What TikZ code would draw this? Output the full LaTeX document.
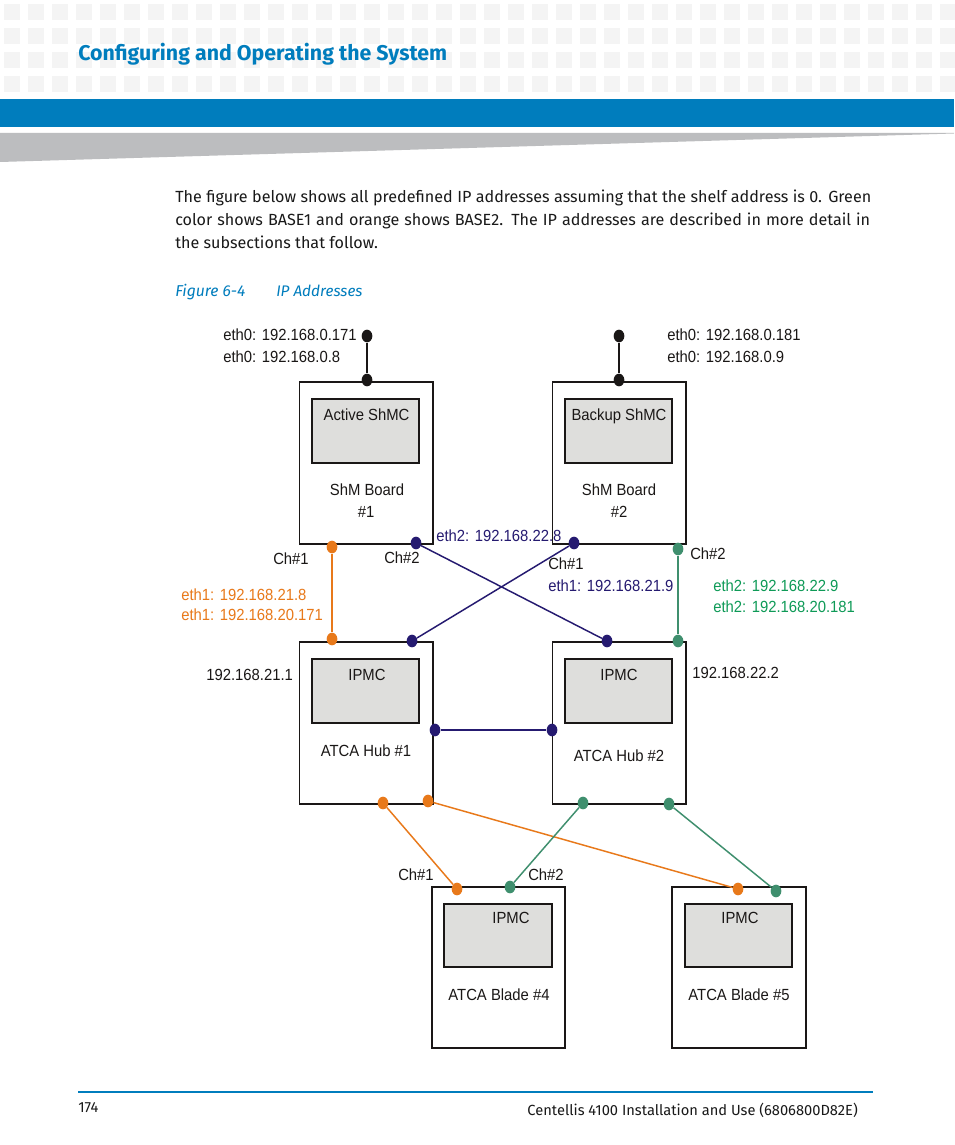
\documentclass[tikz,border=0pt]{standalone}
\usepackage{fontspec}
\setmainfont{Fira Sans}
\newfontfamily\diag[FakeStretch=0.92]{Liberation Sans}
\usetikzlibrary{shapes.geometric}
\definecolor{hblue}{HTML}{007DBD}
\definecolor{hgray}{HTML}{BCBDBF}
\definecolor{hsq}{HTML}{F4F4F4}
\definecolor{inner}{HTML}{DEDEDC}
\definecolor{oline}{HTML}{E8791A}
\definecolor{navy}{HTML}{251A70}
\definecolor{gline}{HTML}{3F8F6E}
\definecolor{gtext}{HTML}{0E9A57}
\definecolor{blk}{HTML}{1A1716}
\tikzset{
 x=0.75pt,y=-0.75pt,
 pagetext/.style={anchor=base west,inner sep=0,font=\fontsize{12.1pt}{14pt}\selectfont,text=black!90},
 lab/.style={anchor=base west,inner sep=0,font=\diag\fontsize{12.1pt}{14pt}\selectfont,text=blk},
 nm/.style={anchor=base,inner sep=0,yshift=0.6pt,font=\diag\fontsize{12.1pt}{14pt}\selectfont,text=blk},
 board/.style={draw=blk,line width=1.1pt,fill=white},
 chip/.style={draw=blk,line width=1.5pt,fill=inner},
 dot/.style={ellipse,inner sep=0,minimum width=8pt,minimum height=9.5pt,fill=#1,draw=none},
 wire/.style={draw=#1,line width=1.1pt},
}
\begin{document}
\begin{tikzpicture}
\useasboundingbox (0,0) rectangle (954,1145);
\fill[white] (0,0) rectangle (954,1145);
% header pattern
\foreach \i in {0,...,39}\foreach \j in {0,...,3}
  \fill[hsq] ({4+24*\i},{4+24*\j}) rectangle ++(16,16);
\fill[hblue] (0,99) rectangle (954,127);
\fill[hgray] (0,133) -- (954,133) -- (954,133.5) -- (0,162) -- cycle;
\node[anchor=base west,inner sep=0,font=\fontsize{16pt}{18pt}\selectfont\bfseries,text=hblue] (title) at (78,61) {Configuring and Operating the System};
% paragraph
\node[pagetext] (p1) at (175,202) {\makebox[522pt][s]{The figure below shows all predefined IP addresses assuming that the shelf address is 0. Green}};
\node[pagetext] (p2) at (175,225) {\makebox[521.2pt][s]{color shows BASE1 and orange shows BASE2. The IP addresses are described in more detail in}};
\node[pagetext] (p3) at (175,248) {the subsections that follow.};
\node[pagetext,text=hblue,font=\fontsize{11.8pt}{14pt}\selectfont\itshape] (figno) at (175,296) {Figure 6-4};
\node[pagetext,text=hblue,font=\fontsize{11.5pt}{14pt}\selectfont\itshape] (figt) at (276,296) {IP Addresses};
% boards
\foreach \n/\xa/\ya/\xb/\yb/\xc/\yc/\xd/\yd/\w in {
 b1/299.5/382/433/544/312/399/419/463/1.1,
 b2/552.5/382/686/544/565/399/672/463/1.1,
 h1/299.5/642/433/804/312/659/419/723/1.1,
 h2/552.5/642/686/804/565/659/672/723/1.1,
 a4/432/887/565/1048/444/904/552/967/0.8,
 a5/672/887/806/1048/685/904/792/967/0.8}{
 \draw[board,line width=\w pt] (\xa,\ya) rectangle (\xb,\yb);
 \draw[chip,line width=\w pt+0.3pt] (\xc,\yc) rectangle (\xd,\yd);
}
% names
\node[nm] (n1) at (366.5,421) {Active ShMC};
\node[nm] (n2) at (619,421) {Backup ShMC};
\node[nm] (n3) at (367,496) {ShM Board};
\node[nm] (n3b) at (366,518) {\#1};
\node[nm] (n4) at (619,496) {ShM Board};
\node[nm] (n4b) at (619,518) {\#2};
\node[nm] (n5) at (367,681) {IPMC};
\node[nm] (n6) at (619,681) {IPMC};
\node[nm] (n7) at (366,757) {ATCA Hub \#1};
\node[nm] (n8) at (619,762) {ATCA Hub \#2};
\node[nm] (n9) at (511,924) {IPMC};
\node[nm] (n10) at (740,924) {IPMC};
\node[nm] (n11) at (499,1001) {ATCA Blade \#4};
\node[nm] (n12) at (739,1001) {ATCA Blade \#5};
% dots
\foreach \n/\c/\x/\y in {
 k1/blk/367/336,k2/blk/367/380,k3/blk/619/336,k4/blk/619/380,
 o1/oline/332/547,o2/oline/332/639,
 v1/navy/416/543,v2/navy/412/641,v3/navy/574/543,v4/navy/607/641,
 g1/gline/678/549,g2/gline/678/641,
 v5/navy/435/730,v6/navy/552/730,
 o3/oline/383/803,o4/oline/428/801,o5/oline/457/889,o6/oline/738/889,
 g3/gline/583/803,g4/gline/669/804,g5/gline/510/887,g6/gline/776/891}{
 \node[dot=\c] (\n) at (\x,\y) {};
}
% wires
\draw[wire=blk] (k1) -- (k2);
\draw[wire=blk] (k3) -- (k4);
\draw[wire=oline] (o1) -- (o2);
\draw[wire=navy] (v1) -- (v4);
\draw[wire=navy] (v3) -- (v2);
\draw[wire=gline] (g1) -- (g2);
\draw[wire=navy] (v5) -- (v6);
\draw[wire=oline] (o3) -- (o5);
\draw[wire=oline] (o4) -- (o6);
\draw[wire=gline] (g3) -- (g5);
\draw[wire=gline] (g4) -- (g6);
% labels
\node[lab] (l1) at (223,340) {eth0: 192.168.0.171};
\node[lab] (l2) at (223,362) {eth0: 192.168.0.8};
\node[lab] (l3) at (667,340) {eth0: 192.168.0.181};
\node[lab] (l4) at (667,362) {eth0: 192.168.0.9};
\node[lab,text=navy] (l5) at (436,541) {eth2: 192.168.22.8};
\node[lab,text=navy] (l6) at (548,591) {eth1: 192.168.21.9};
\node[lab,text=oline] (l7) at (181,600) {eth1: 192.168.21.8};
\node[lab,text=oline] (l8) at (181,620) {eth1: 192.168.20.171};
\node[lab,text=gtext] (l9) at (713,591) {eth2: 192.168.22.9};
\node[lab,text=gtext] (l10) at (713,612) {eth2: 192.168.20.181};
\node[lab] (l11) at (206,680) {192.168.21.1};
\node[lab] (l12) at (692,678) {192.168.22.2};
\node[nm] (c1) at (291,565) {Ch\#1};
\node[nm] (c2) at (402,564) {Ch\#2};
\node[nm] (c3) at (566,570) {Ch\#1};
\node[nm] (c4) at (708,560) {Ch\#2};
\node[nm] (c5) at (416,881) {Ch\#1};
\node[nm] (c6) at (546,881) {Ch\#2};
% footer
\draw[hblue,line width=0.9pt] (78,1092) -- (873,1092);
\node[pagetext,font=\fontsize{11pt}{14pt}\selectfont] (pg) at (78,1112) {174};
\node[pagetext,anchor=base east,font=\fontsize{11pt}{14pt}\selectfont] (ft) at (858,1115) {Centellis 4100 Installation and Use (6806800D82E)};
\end{tikzpicture}
\end{document}
